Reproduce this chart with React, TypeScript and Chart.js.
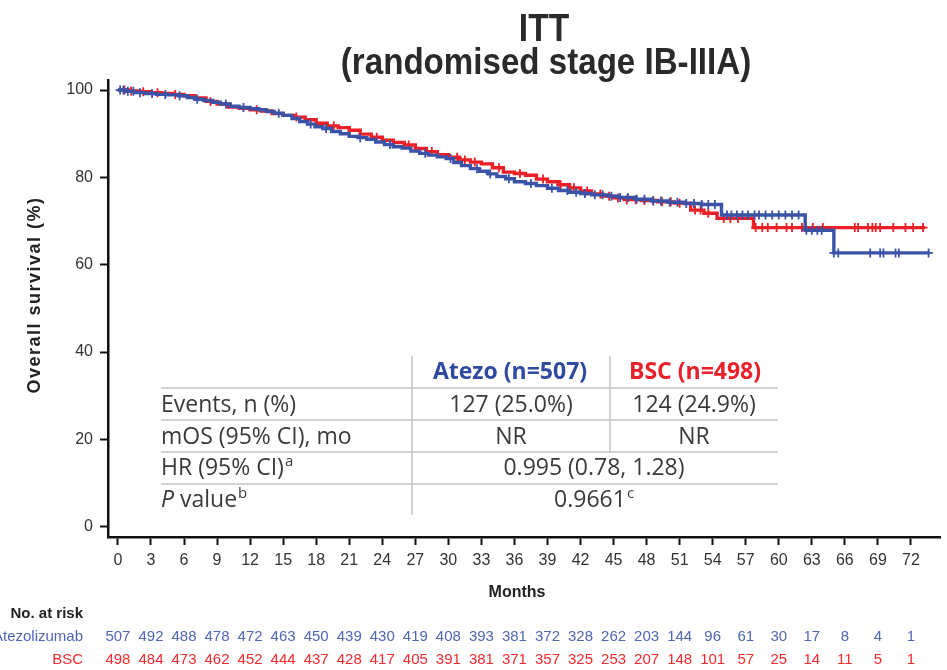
import { useEffect, useRef } from "react";
import { Chart, registerables } from "chart.js";

Chart.register(...registerables);

// Axis ticks
const monthTicks = [0, 3, 6, 9, 12, 15, 18, 21, 24, 27, 30, 33, 36, 39, 42, 45, 48, 51, 54, 57, 60, 63, 66, 69, 72];
const survivalTicks = [0, 20, 40, 60, 80, 100];

// Kaplan–Meier steps: time (months) and survival (%) from that time on
const atezoTimes = [0, 0.8, 1.5, 2.5, 3.5, 4.5, 5.5, 6.3, 7.0, 7.8, 8.6, 9.3, 10.2, 11.0, 12.0, 12.8, 13.5, 14.2, 15.0, 15.8, 16.5, 17.2, 17.9, 18.6, 19.4, 20.2, 21.0, 21.8, 22.6, 23.4, 24.2, 25.0, 25.8, 26.6, 27.4, 28.2, 29.0, 29.8, 30.5, 31.2, 32.0, 32.8, 33.6, 34.4, 35.2, 36.0, 37.0, 38.0, 39.0, 40.0, 41.0, 42.0, 43.0, 44.5, 45.5, 47.0, 48.5, 50.0, 51.5, 53.0, 54.8, 62.4, 65.0, 73.7];
const atezoSurvival = [100, 99.7, 99.4, 99.2, 99.0, 98.9, 98.7, 98.3, 97.9, 97.6, 97.2, 96.8, 96.3, 96.0, 95.7, 95.5, 95.1, 94.7, 94.2, 93.5, 92.8, 92.2, 91.6, 91.2, 90.5, 90.0, 89.4, 89.1, 88.7, 88.1, 87.5, 87.0, 86.7, 86.0, 85.5, 85.1, 84.7, 84.3, 83.4, 82.7, 82.0, 81.4, 80.8, 80.2, 79.7, 79.0, 78.6, 78.1, 77.5, 77.0, 76.6, 76.3, 76.0, 75.7, 75.4, 75.0, 74.6, 74.3, 74.0, 73.8, 71.4, 67.9, 62.7, 62.7];

const bscTimes = [0, 1.0, 2.0, 3.0, 4.0, 5.0, 6.0, 7.0, 8.0, 9.0, 10.0, 11.0, 12.0, 13.0, 14.0, 15.0, 16.0, 17.0, 18.0, 19.0, 20.0, 21.0, 22.0, 23.0, 24.0, 25.0, 26.0, 27.0, 28.0, 29.0, 30.0, 31.0, 32.0, 33.0, 34.0, 35.0, 36.0, 37.0, 38.0, 39.0, 40.0, 41.0, 42.0, 43.0, 44.0, 45.0, 46.0, 47.5, 49.0, 50.5, 52.0, 53.2, 54.4, 57.7, 73.3];
const bscSurvival = [100, 99.8, 99.6, 99.4, 99.2, 99.0, 98.7, 98.2, 97.4, 96.8, 96.1, 95.8, 95.5, 95.2, 94.6, 94.2, 93.8, 93.2, 92.4, 91.8, 91.4, 90.8, 89.9, 89.2, 88.5, 88.0, 87.4, 86.6, 85.9, 85.2, 84.6, 84.0, 83.5, 83.1, 82.2, 81.2, 80.9, 80.5, 79.6, 79.0, 78.3, 77.6, 76.9, 76.2, 75.7, 75.3, 74.9, 74.7, 74.4, 74.1, 72.5, 71.8, 70.6, 68.5, 68.5];

// Censored observations (months)
const atezoCensored = [0.2, 0.5, 0.9, 1.4, 2.0, 3.1, 4.3, 5.6, 7.2, 9.8, 11.4, 14.6, 17.5, 18.9, 22.0, 24.7, 27.9, 30.2, 32.6, 33.8, 35.5, 37.5, 39.4, 40.8, 41.6, 42.4, 43.3, 44.0, 44.8, 45.6, 46.3, 47.1, 47.8, 48.6, 49.3, 50.1, 50.8, 51.6, 52.3, 53.0, 53.6, 54.2, 55.3, 55.7, 56.2, 56.7, 57.2, 57.8, 58.2, 58.8, 59.4, 60.0, 60.6, 61.2, 61.8, 62.5, 63.0, 63.5, 63.9, 65.0, 65.4, 68.3, 69.2, 69.5, 70.6, 70.9, 73.6];
const bscCensored = [0.6, 1.2, 2.3, 3.6, 5.2, 8.4, 12.6, 16.2, 19.6, 23.5, 26.4, 28.5, 30.8, 31.5, 32.4, 34.6, 36.5, 38.6, 40.2, 41.4, 42.6, 43.8, 44.6, 45.4, 46.2, 47.0, 47.8, 48.6, 49.4, 50.2, 51.0, 52.4, 52.9, 53.6, 55.0, 55.6, 56.3, 57.9, 58.5, 59.0, 59.8, 60.7, 61.2, 62.1, 63.1, 64.0, 66.9, 67.2, 68.1, 68.5, 68.8, 69.2, 70.4, 71.5, 72.2, 73.1];

// Numbers at risk at each month tick
const atezoAtRisk = [507, 492, 488, 478, 472, 463, 450, 439, 430, 419, 408, 393, 381, 372, 328, 262, 203, 144, 96, 61, 30, 17, 8, 4, 1];
const bscAtRisk = [498, 484, 473, 462, 452, 444, 437, 428, 417, 405, 391, 381, 371, 357, 325, 253, 207, 148, 101, 57, 25, 14, 11, 5, 1];

// Summary statistics
const atezoHeader = "Atezo (n=507)";
const bscHeader = "BSC (n=498)";
const eventsRow = ["Events, n (%)", "127 (25.0%)", "124 (24.9%)"];
const mosRow = ["mOS (95% CI), mo", "NR", "NR"];
const hrRow = ["HR (95% CI)", "a", "0.995 (0.78, 1.28)"];
const pRow = ["P", " value", "b", "0.9661", "c"];

const BLUE = "#3a53a6";
const RED = "#ec1f27";
const HEAD_BLUE = "#2f4a9f";
const HEAD_RED = "#e8202a";
const RISK_BLUE = "#5166b4";
const RISK_RED = "#ef2b30";
const TEXT = "#3a3a3a";
const ARIAL = '"Liberation Sans", Arial, sans-serif';
const TITLE_FONT = '"Liberation Sans Narrow", "Liberation Sans", Arial, sans-serif';
const TABLE = '"Open Sans", "Noto Sans", sans-serif';

function survivalAt(times: number[], surv: number[], t: number) {
  let s = surv[0];
  for (let i = 0; i < times.length; i++) {
    if (times[i] <= t) s = surv[i];
  }
  return s;
}

function toPoints(times: number[], surv: number[]) {
  return times.map((t, i) => ({ x: t, y: surv[i] }));
}

function censorPoints(c: number[], times: number[], surv: number[]) {
  return c.map((t) => ({ x: t, y: survivalAt(times, surv, t) }));
}

// Draws text horizontally condensed around a centre x
function condensedText(ctx: CanvasRenderingContext2D, text: string, cx: number, y: number, squeeze: number) {
  ctx.save();
  ctx.translate(cx, y);
  ctx.scale(squeeze, 1);
  ctx.fillText(text, 0, 0);
  ctx.restore();
}

const overlayPlugin = {
  id: "kmOverlay",
  afterDraw(chart: any) {
    const ctx = chart.ctx as CanvasRenderingContext2D;
    const xs = chart.scales.x;
    ctx.save();

    // Title
    ctx.fillStyle = "#2a2a2a";
    ctx.textAlign = "center";
    ctx.textBaseline = "alphabetic";
    ctx.font = `bold 39px ${TITLE_FONT}`;
    condensedText(ctx, "ITT", 544, 41, 0.86);
    ctx.font = `bold 36px ${TITLE_FONT}`;
    condensedText(ctx, "(randomised stage IB-IIIA)", 546, 74, 0.92);

    // Axis titles
    ctx.fillStyle = "#222";
    ctx.font = `bold 16px ${ARIAL}`;
    ctx.textBaseline = "middle";
    ctx.fillText("Months", 517, 593);
    ctx.save();
    ctx.translate(35, 295);
    ctx.rotate(-Math.PI / 2);
    ctx.font = `bold 18px ${ARIAL}`;
    (ctx as any).letterSpacing = "1.5px";
    ctx.fillText("Overall survival (%)", 0, 0);
    (ctx as any).letterSpacing = "0px";
    ctx.restore();

    // Numbers at risk
    ctx.textAlign = "right";
    ctx.font = `bold 15px ${ARIAL}`;
    ctx.fillStyle = "#222";
    ctx.fillText("No. at risk", 83, 614);
    ctx.font = `15px ${ARIAL}`;
    ctx.fillStyle = RISK_BLUE;
    ctx.fillText("Atezolizumab", 83, 637);
    ctx.fillStyle = RISK_RED;
    ctx.fillText("BSC", 83, 660);
    ctx.textAlign = "center";
    monthTicks.forEach((m, i) => {
      const px = xs.getPixelForValue(m);
      ctx.fillStyle = RISK_BLUE;
      ctx.fillText(String(atezoAtRisk[i]), px, 637);
      ctx.fillStyle = RISK_RED;
      ctx.fillText(String(bscAtRisk[i]), px, 660);
    });

    // Summary table grid
    ctx.strokeStyle = "#c4c4c4";
    ctx.lineWidth = 1.5;
    ctx.beginPath();
    [388, 420, 452, 484].forEach((y) => {
      ctx.moveTo(161, y);
      ctx.lineTo(778, y);
    });
    ctx.moveTo(412, 356);
    ctx.lineTo(412, 515);
    ctx.moveTo(610, 356);
    ctx.lineTo(610, 452);
    ctx.stroke();

    // Header
    ctx.textBaseline = "middle";
    ctx.textAlign = "center";
    ctx.font = `bold 23px ${TABLE}`;
    ctx.fillStyle = HEAD_BLUE;
    ctx.fillText(atezoHeader, 510, 372);
    ctx.fillStyle = HEAD_RED;
    ctx.fillText(bscHeader, 695, 372);

    // Rows
    ctx.font = `23px ${TABLE}`;
    ctx.fillStyle = TEXT;
    ctx.textAlign = "left";
    ctx.fillText(eventsRow[0], 161, 405);
    ctx.fillText(mosRow[0], 161, 437);
    ctx.fillText(hrRow[0], 161, 468);
    let w = ctx.measureText(hrRow[0]).width;
    ctx.font = `15px ${TABLE}`;
    ctx.fillText(hrRow[1], 161 + w + 1, 462);

    ctx.font = `italic 23px ${TABLE}`;
    ctx.fillText(pRow[0], 161, 500);
    w = ctx.measureText(pRow[0]).width;
    ctx.font = `23px ${TABLE}`;
    ctx.fillText(pRow[1], 161 + w, 500);
    w += ctx.measureText(pRow[1]).width;
    ctx.font = `15px ${TABLE}`;
    ctx.fillText(pRow[2], 161 + w + 1, 494);

    ctx.textAlign = "center";
    ctx.font = `23px ${TABLE}`;
    ctx.fillText(eventsRow[1], 511, 405);
    ctx.fillText(eventsRow[2], 694, 405);
    ctx.fillText(mosRow[1], 511, 437);
    ctx.fillText(mosRow[2], 694, 437);
    ctx.fillText(hrRow[2], 594, 468);
    const pw = ctx.measureText(pRow[3]).width;
    ctx.fillText(pRow[3], 590, 500);
    ctx.textAlign = "left";
    ctx.font = `15px ${TABLE}`;
    ctx.fillText(pRow[4], 590 + pw / 2 + 1, 494);

    ctx.restore();
  },
};

export default function App() {
  const canvasRef = useRef<HTMLCanvasElement | null>(null);

  useEffect(() => {
    const canvas = canvasRef.current;
    if (!canvas) return;
    const chart = new Chart(canvas, {
      type: "line",
      data: {
        datasets: [
          {
            label: "Atezolizumab",
            data: toPoints(atezoTimes, atezoSurvival),
            borderColor: BLUE,
            borderWidth: 3.4,
            stepped: true,
            pointRadius: 0,
            fill: false,
          },
          {
            label: "Atezolizumab censored",
            data: censorPoints(atezoCensored, atezoTimes, atezoSurvival),
            showLine: false,
            pointStyle: "cross",
            pointRadius: 4.5,
            borderColor: BLUE,
            backgroundColor: BLUE,
            pointBorderWidth: 1.8,
          },
          {
            label: "BSC",
            data: toPoints(bscTimes, bscSurvival),
            borderColor: RED,
            borderWidth: 3.4,
            stepped: true,
            pointRadius: 0,
            fill: false,
          },
          {
            label: "BSC censored",
            data: censorPoints(bscCensored, bscTimes, bscSurvival),
            showLine: false,
            pointStyle: "cross",
            pointRadius: 4.5,
            borderColor: RED,
            backgroundColor: RED,
            pointBorderWidth: 1.8,
          },
        ],
      },
      options: {
        responsive: false,
        animation: false,
        layout: { padding: { top: 80, left: 0, right: 1, bottom: 93 } },
        plugins: {
          legend: { display: false },
          tooltip: { enabled: false },
          title: { display: false },
        },
        scales: {
          x: {
            type: "linear",
            min: -0.9,
            max: 74.7,
            afterBuildTicks: (s: any) => {
              s.ticks = monthTicks.map((v) => ({ value: v }));
            },
            afterFit: (s: any) => {
              s.height = 40;
              s.paddingLeft = 0;
              s.paddingRight = 0;
            },
            grid: {
              display: true,
              drawOnChartArea: false,
              drawTicks: true,
              tickLength: 8,
              tickWidth: 2,
              tickColor: "#111",
            },
            border: { display: true, color: "#111", width: 2.5 },
            ticks: {
              autoSkip: false,
              maxRotation: 0,
              padding: 6,
              color: "#333",
              font: { family: ARIAL, size: 16 },
            },
          },
          y: {
            type: "linear",
            min: -2.36,
            max: 102.3,
            afterBuildTicks: (s: any) => {
              s.ticks = survivalTicks.map((v) => ({ value: v }));
            },
            afterFit: (s: any) => {
              s.width = 108;
              s.paddingTop = 0;
              s.paddingBottom = 0;
            },
            grid: {
              display: true,
              drawOnChartArea: false,
              drawTicks: true,
              tickLength: 8,
              tickWidth: 2,
              tickColor: "#111",
            },
            border: { display: true, color: "#111", width: 2.5 },
            ticks: {
              padding: 7,
              color: "#333",
              font: { family: ARIAL, size: 16 },
            },
          },
        },
      },
      plugins: [overlayPlugin],
    });
    return () => chart.destroy();
  }, []);

  return (
    <div style={{ position: "fixed", left: 0, top: 0, width: 947, height: 670, background: "#fff" }}>
      <canvas ref={canvasRef} width={947} height={670} style={{ width: 947, height: 670 }} />
    </div>
  );
}
